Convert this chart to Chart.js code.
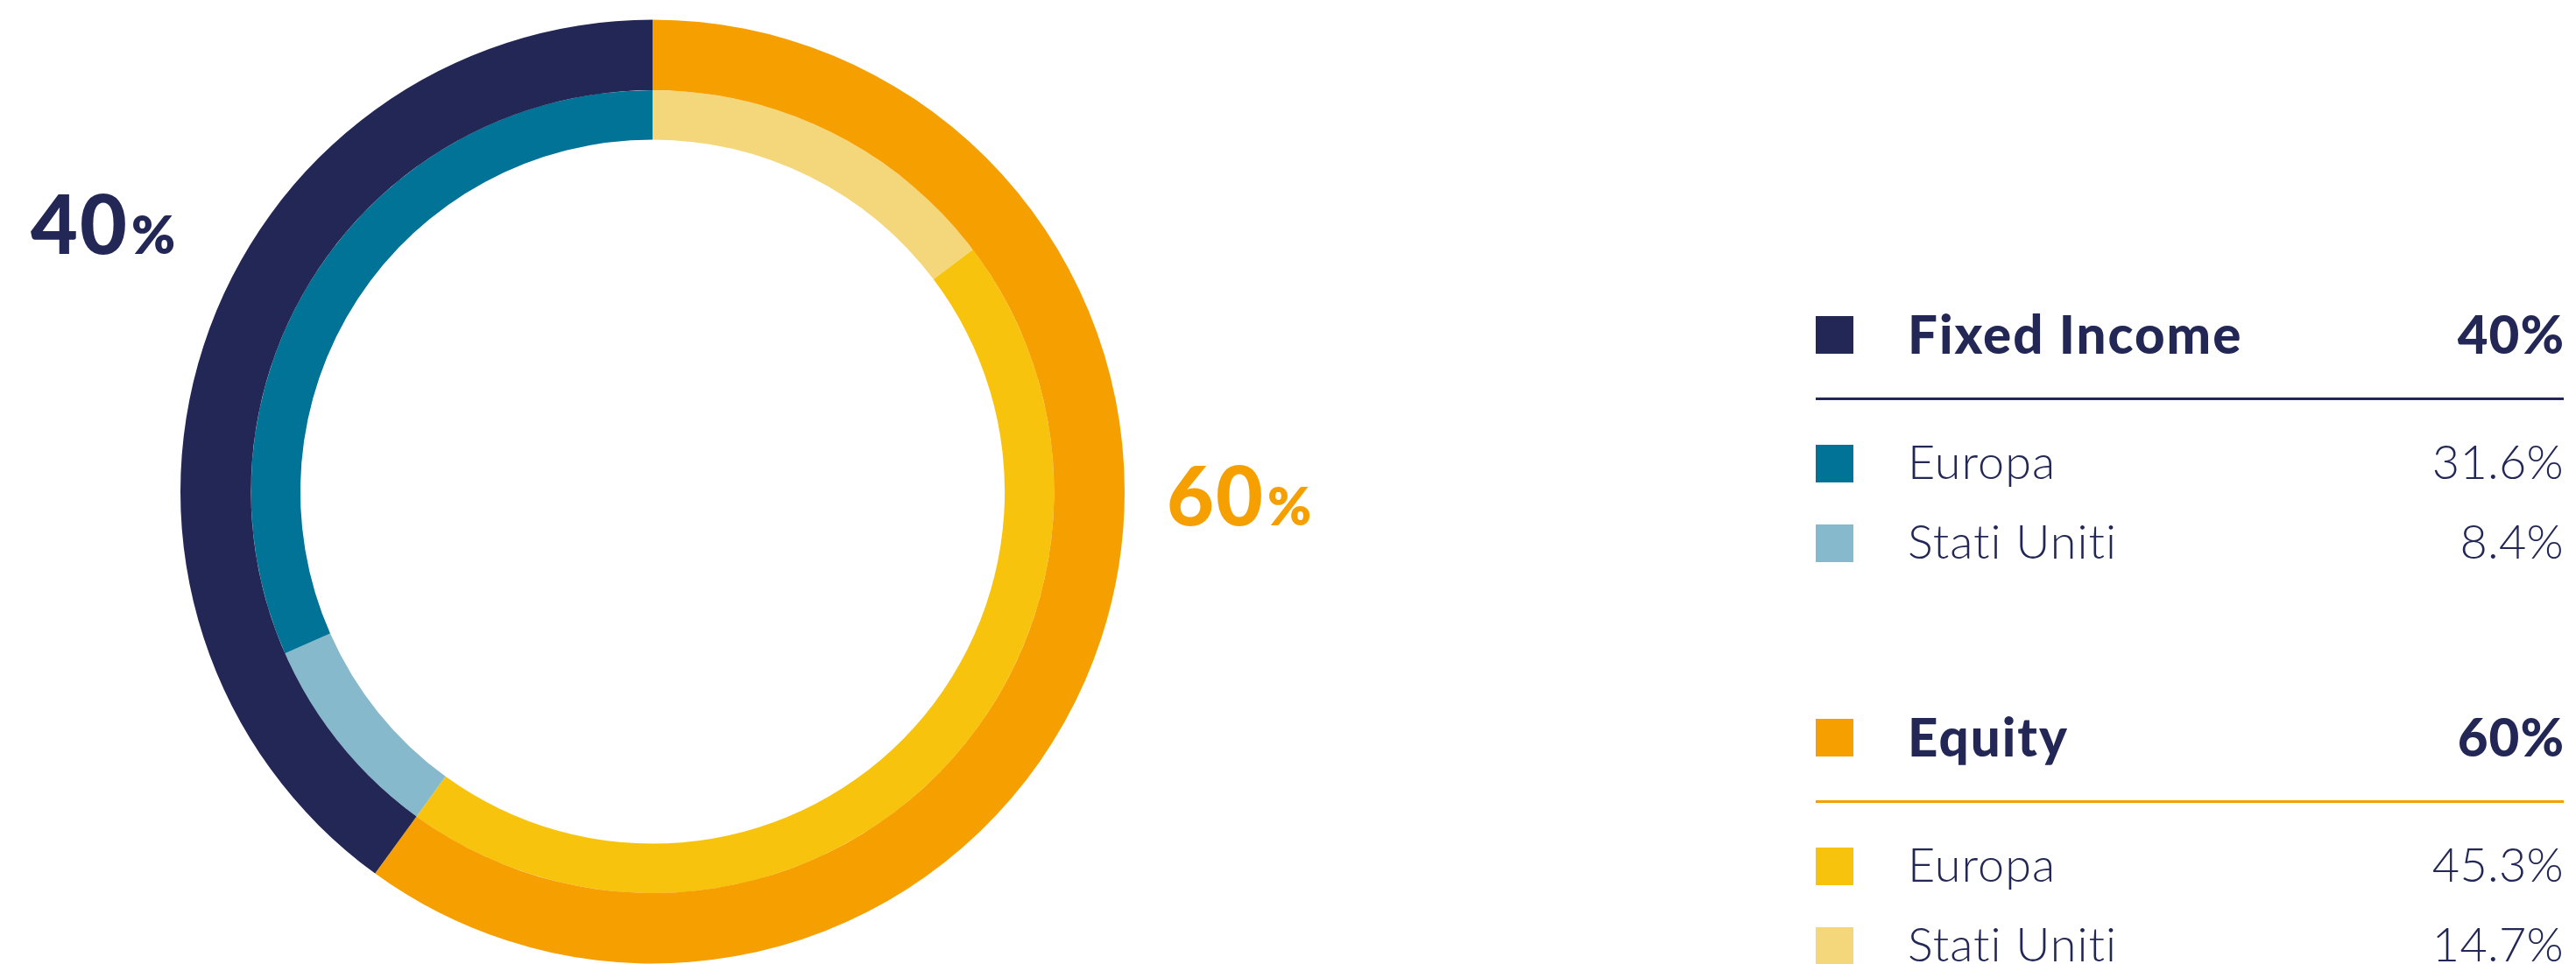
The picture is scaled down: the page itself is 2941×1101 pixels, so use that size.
<!DOCTYPE html>
<html>
<head>
<meta charset="utf-8">
<script src="https://cdn.jsdelivr.net/npm/chart.js@4/dist/chart.umd.min.js"></script>
<style>
  html, body { margin: 0; padding: 0; background: #fff; overflow: hidden; }
  canvas { display: block; }
</style>
</head>
<body>
<canvas id="chart" width="2941" height="1101"></canvas>
<script>
// asset classes (legend order) and their share
const categories = ["Fixed Income", "Equity"];
const categoryValues = [40, 60];
const categoryColors = ["#222756", "#F5A000"];

// regions inside each asset class
const regions = ["Europa", "Stati Uniti"];
const fixedIncomeValues = [31.6, 8.4];
const equityValues = [45.3, 14.7];
const fixedIncomeColors = ["#007396", "#85B9CB"];
const equityColors = ["#F8C30D", "#F4D77A"];

const navy = "#222756";

// ring order goes clockwise from 12 o'clock: equity first, then fixed income
const outerValues = [categoryValues[1], categoryValues[0]];
const outerColors = [categoryColors[1], categoryColors[0]];
const innerValues = equityValues.slice().reverse().concat(fixedIncomeValues.slice().reverse());
const innerColors = equityColors.slice().reverse().concat(fixedIncomeColors.slice().reverse());
const innerLabels = regions.slice().reverse().concat(regions.slice().reverse());

const ctx = document.getElementById("chart").getContext("2d");

function fmt(v) {
    return (Number.isInteger(v) ? v : v.toFixed(1)) + "%";
}

// big "40%" / "60%" next to the ring, plus the table legend on the right
const overlay = {
    id: "overlay",
    afterDraw(chart) {
        const c = chart.ctx;
        const arc = chart.getDatasetMeta(0).data[0];
        const cx = arc.x, cy = arc.y, r = arc.outerRadius;

        c.save();
        c.textBaseline = "alphabetic";

        function bigLabel(value, color, x, y) {
            c.fillStyle = color;
            c.textAlign = "left";
            c.letterSpacing = "2px";
            c.font = "900 93px Lato";
            const num = String(value);
            c.fillText(num, x, y);
            const w = c.measureText(num).width;
            c.letterSpacing = "0px";
            c.font = "800 60px Lato";
            c.fillText("%", x + w + 3, y);
        }
        bigLabel(categoryValues[0], categoryColors[0], 35, cy - 272);
        bigLabel(categoryValues[1], categoryColors[1], cx + r + 48, cy + 38);

        // legend table
        const left = 2073, right = 2927, textX = 2178;
        const groupTops = [361, 821];
        const subs = [fixedIncomeValues, equityValues];
        const subColors = [fixedIncomeColors, equityColors];

        categories.forEach(function (name, i) {
            const top = groupTops[i];
            c.fillStyle = categoryColors[i];
            c.fillRect(left, top, 43, 43);

            c.fillStyle = navy;
            c.font = "900 60px Lato";
            c.letterSpacing = "2px";
            c.textAlign = "left";
            c.fillText(name, textX, top + 43);
            c.letterSpacing = "1px";
            c.textAlign = "right";
            c.fillText(fmt(categoryValues[i]), right + 1, top + 43);

            c.fillStyle = categoryColors[i];
            c.fillRect(left, top + 93, right - left, 3);

            regions.forEach(function (reg, j) {
                const t = top + 147 + j * 91;
                c.fillStyle = subColors[i][j];
                c.fillRect(left, t, 43, 43);
                c.fillStyle = navy;
                c.font = "300 54px Lato";
                c.letterSpacing = "1px";
                c.textAlign = "left";
                c.fillText(reg, textX, t + 39);
                c.letterSpacing = "0.3px";
                c.textAlign = "right";
                c.fillText(fmt(subs[i][j]), right, t + 39);
            });
        });
        c.restore();
    }
};

new Chart(ctx, {
    type: "doughnut",
    data: {
        labels: innerLabels,
        datasets: [
            {
                label: "Asset class",
                data: outerValues,
                backgroundColor: outerColors,
                borderWidth: 0,
                weight: 80
            },
            {
                label: "Regione",
                data: innerValues,
                backgroundColor: innerColors,
                borderWidth: 0,
                weight: 56
            }
        ]
    },
    options: {
        responsive: false,
        animation: false,
        cutout: "74.6%",
        layout: {
            padding: { left: 206, top: 22, right: 1657, bottom: 0 }
        },
        plugins: {
            legend: { display: false },
            tooltip: { enabled: false }
        }
    },
    plugins: [overlay]
});
</script>
</body>
</html>
